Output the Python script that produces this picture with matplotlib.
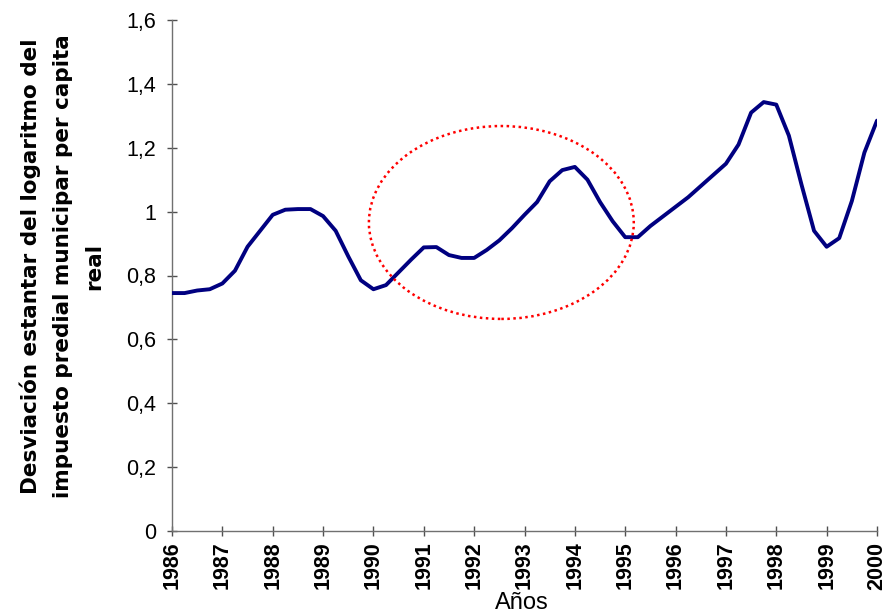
import matplotlib
matplotlib.use("Agg")
import matplotlib.pyplot as plt
from matplotlib.patches import Ellipse

# Quarter-year readings of the curve
years = [1986.00, 1986.25, 1986.50, 1986.75, 1987.00, 1987.25, 1987.50, 1987.75,
         1988.00, 1988.25, 1988.50, 1988.75, 1989.00, 1989.25, 1989.50, 1989.75,
         1990.00, 1990.25, 1990.50, 1990.75, 1991.00, 1991.25, 1991.50, 1991.75,
         1992.00, 1992.25, 1992.50, 1992.75, 1993.00, 1993.25, 1993.50, 1993.75,
         1994.00, 1994.25, 1994.50, 1994.75, 1995.00, 1995.25, 1995.50, 1995.75,
         1996.00, 1996.25, 1996.50, 1996.75, 1997.00, 1997.25, 1997.50, 1997.75,
         1998.00, 1998.25, 1998.50, 1998.75, 1999.00, 1999.25, 1999.50, 1999.75,
         2000.00]
values = [0.745, 0.745, 0.753, 0.757, 0.775, 0.815, 0.890, 0.940,
          0.990, 1.006, 1.008, 1.008, 0.986, 0.940, 0.860, 0.785,
          0.757, 0.770, 0.810, 0.850, 0.888, 0.889, 0.864, 0.855,
          0.855, 0.880, 0.910, 0.948, 0.990, 1.030, 1.095, 1.130,
          1.140, 1.100, 1.030, 0.970, 0.920, 0.920, 0.955, 0.985,
          1.015, 1.045, 1.080, 1.115, 1.150, 1.210, 1.310, 1.343,
          1.335, 1.238, 1.085, 0.940, 0.890, 0.917, 1.033, 1.185,
          1.285]

ytick_vals = [0, 0.2, 0.4, 0.6, 0.8, 1.0, 1.2, 1.4, 1.6]
ytick_labels = ["0", "0,2", "0,4", "0,6", "0,8", "1", "1,2", "1,4", "1,6"]
xtick_vals = list(range(1986, 2001))
xtick_labels = [str(y) for y in xtick_vals]

ylabel = ("Desviación estantar del logaritmo del\n"
          "impuesto predial municipar per capita\n"
          "real")
xlabel = "Años"

# Highlight ellipse (data coords)
ell_center = (1992.54, 0.966)
ell_width = 5.26
ell_height = 0.604

fig = plt.figure(figsize=(8.84, 6.16), dpi=100)
ax = fig.add_axes([172/884, 1-531/616, (877-172)/884, (531-20)/616])

ax.plot(years, values, color="#000080", lw=2.8, solid_joinstyle="round",
        solid_capstyle="round", zorder=3)

ell = Ellipse(ell_center, ell_width, ell_height, fill=False,
              edgecolor="#ff0000", lw=1.8, linestyle=(0, (1, 1.4)), zorder=4)
ax.add_patch(ell)

ax.set_xlim(1986, 2000)
ax.set_ylim(0, 1.6)

for s in ["top", "right"]:
    ax.spines[s].set_visible(False)
for s in ["left", "bottom"]:
    ax.spines[s].set_color("#707070")
    ax.spines[s].set_linewidth(1.0)

ax.set_yticks(ytick_vals)
ax.set_yticklabels(ytick_labels, family="Liberation Sans", fontsize=15.5)
ax.set_xticks(xtick_vals)
ax.set_xticklabels(xtick_labels, family="Liberation Sans", fontweight="bold",
                   fontsize=15.5, rotation=90, va="top", ha="center")
ax.tick_params(axis="both", direction="inout", length=7.2, width=1.0,
               color="#505050")
ax.tick_params(axis="y", pad=8)
ax.tick_params(axis="x", pad=4)

fig.text(62/884, 1-266/616, ylabel, rotation=90, ha="center", va="center",
         family="DejaVu Sans", fontweight="bold", fontsize=15.5,
         linespacing=1.75, multialignment="center")
fig.text(522/884, 1-603/616, xlabel, ha="center", va="center",
         family="Liberation Sans", fontsize=17)

fig.savefig("out.png", dpi=100)
